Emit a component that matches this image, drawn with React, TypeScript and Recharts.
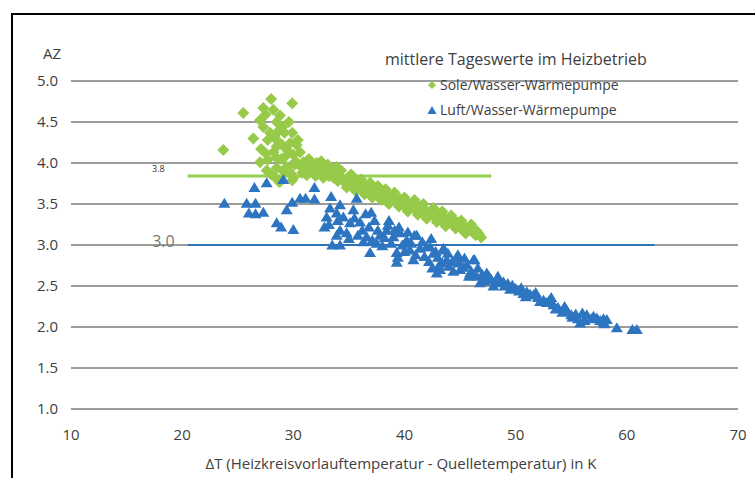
import React from "react";
import { ScatterChart, Scatter, XAxis, YAxis, CartesianGrid, ReferenceLine } from "recharts";

const xTicks = [10, 20, 30, 40, 50, 60, 70];
const yTicks = [1.0, 1.5, 2.0, 2.5, 3.0, 3.5, 4.0, 4.5, 5.0];

const seriesNames = ["Sole/Wasser-Wärmepumpe", "Luft/Wasser-Wärmepumpe"];
const legendTitle = "mittlere Tageswerte im Heizbetrieb";
const xTitle = "ΔT (Heizkreisvorlauftemperatur - Quelletemperatur) in K";
const yTitle = "AZ";

const soleRef = { value: 3.84, from: 20.5, to: 47.8, label: "3.8" };
const luftRef = { value: 3.0, from: 20.5, to: 62.5, label: "3.0" };

const solePoints: [number, number][] = [
  [23.7, 4.16], [25.5, 4.61], [28.0, 4.78], [29.9, 4.73], [26.4, 4.3], [27.1, 4.17],
  [27.3, 4.67], [27.5, 4.59], [28.2, 4.65], [27.0, 4.52], [27.3, 4.44], [28.5, 4.5],
  [27.9, 4.37], [28.6, 4.38], [27.7, 4.28], [28.5, 4.28], [29.2, 4.37], [29.9, 4.37],
  [27.5, 4.12], [28.2, 4.13], [29.0, 4.22], [29.7, 4.24], [30.3, 4.22], [27.0, 4.01],
  [27.7, 4.04], [28.5, 4.06], [29.2, 4.07], [30.0, 4.1], [30.6, 4.13], [27.6, 3.91],
  [28.5, 3.94], [29.4, 3.95], [30.1, 3.98], [30.9, 4.01], [31.5, 3.98], [32.1, 4.0],
  [28.4, 3.82], [28.8, 3.77], [30.0, 3.82], [31.2, 3.85], [32.4, 3.89], [32.8, 3.95],
  [30.4, 4.28], [28.5, 4.2], [28.7, 3.77], [29.9, 3.79], [33.9, 3.95], [31.0, 3.92],
  [31.8, 3.9], [32.0, 3.84], [31.4, 4.05], [30.8, 3.88], [29.0, 4.44], [28.8, 4.58],
  [29.5, 4.15], [30.2, 4.02], [30.7, 3.95], [31.3, 3.9], [29.8, 3.87], [28.0, 3.86],
  [29.1, 3.9], [28.3, 4.33], [29.6, 4.5], [28.9, 4.05], [31.7, 3.95], [32.7, 3.82],
  [32.3, 3.95], [32.6, 3.9], [33.0, 3.92], [33.2, 3.84], [33.4, 3.89], [33.6, 3.82],
  [34.0, 3.78], [34.2, 3.84], [34.5, 3.8], [34.7, 3.75], [34.9, 3.82], [35.1, 3.77],
  [35.3, 3.72], [35.5, 3.78], [35.8, 3.7], [36.0, 3.74], [36.2, 3.68], [36.5, 3.72],
  [36.7, 3.66], [37.0, 3.69], [37.2, 3.62], [37.4, 3.67], [37.7, 3.6], [38.0, 3.64],
  [38.2, 3.57], [38.5, 3.61], [38.8, 3.54], [39.0, 3.58], [39.3, 3.52], [39.6, 3.56],
  [39.9, 3.48], [40.1, 3.53], [40.4, 3.46], [40.7, 3.5], [41.0, 3.43], [41.3, 3.47],
  [41.5, 3.4], [41.8, 3.44], [42.1, 3.37], [42.4, 3.41], [42.7, 3.34], [43.0, 3.38],
  [43.3, 3.3], [43.5, 3.35], [43.8, 3.27], [44.1, 3.31], [44.4, 3.24], [44.7, 3.28],
  [45.0, 3.21], [45.3, 3.25], [45.6, 3.18], [45.9, 3.21], [46.2, 3.15], [46.5, 3.17],
  [46.9, 3.09], [32.5, 4.02], [33.1, 3.98], [33.8, 3.88], [34.3, 3.91], [34.8, 3.7],
  [35.2, 3.86], [35.6, 3.66], [36.1, 3.8], [36.4, 3.62], [36.9, 3.76], [37.1, 3.58],
  [37.6, 3.72], [37.9, 3.55], [38.3, 3.68], [38.6, 3.5], [39.1, 3.64], [39.5, 3.47],
  [40.0, 3.58], [40.3, 3.41], [40.9, 3.55], [41.2, 3.37], [41.7, 3.5], [42.0, 3.32],
  [42.6, 3.45], [42.9, 3.28], [43.4, 3.41], [43.7, 3.23], [44.2, 3.36], [44.6, 3.2],
  [45.1, 3.3], [45.5, 3.14], [46.0, 3.25], [46.4, 3.12], [46.7, 3.13],
];

const luftPoints: [number, number][] = [
  [23.8, 3.51], [25.8, 3.51], [26.0, 3.39], [26.5, 3.7], [26.6, 3.51], [26.6, 3.38],
  [27.3, 3.4], [27.6, 3.76], [28.5, 3.27], [28.9, 3.22], [29.1, 3.8], [29.4, 3.43],
  [29.9, 3.52], [30.0, 3.19], [30.6, 3.57], [31.1, 3.57], [31.9, 3.56], [31.9, 3.7],
  [32.8, 3.22], [33.0, 3.34], [33.3, 3.45], [33.4, 3.59], [33.5, 3.0], [33.9, 3.39],
  [33.9, 3.12], [34.2, 3.49], [34.2, 3.18], [34.2, 3.0], [34.5, 3.34], [34.8, 3.15],
  [35.1, 3.27], [35.4, 3.43], [35.5, 3.33], [35.7, 3.57], [36.2, 3.18], [36.3, 3.04],
  [36.9, 2.91], [37.1, 3.06], [37.3, 3.3], [37.6, 3.18], [38.2, 3.09], [38.4, 3.18],
  [38.5, 3.24], [39.1, 3.18], [39.3, 2.91], [39.3, 2.79], [39.4, 2.85], [39.6, 3.15],
  [40.2, 3.06], [40.5, 2.94], [40.9, 3.12], [41.1, 3.12], [42.0, 2.98], [42.3, 2.98],
  [42.5, 2.72], [42.9, 2.66], [43.2, 2.7], [43.5, 2.96], [43.6, 2.94], [43.8, 2.82],
  [44.7, 2.85], [44.8, 2.88], [45.3, 2.73], [45.9, 2.66], [46.2, 2.82], [46.3, 2.82],
  [46.8, 2.54], [47.4, 2.66], [47.4, 2.6], [48.6, 2.54], [49.7, 2.51], [50.7, 2.41],
  [51.6, 2.39], [52.5, 2.33], [53.4, 2.27], [54.2, 2.18], [55.1, 2.12], [55.8, 2.05],
  [56.0, 2.17], [56.4, 2.15], [57.3, 2.11], [58.2, 2.09], [59.1, 1.99], [60.5, 1.97],
  [60.9, 1.97], [36.5, 3.38], [36.8, 3.22], [37.8, 3.12], [38.0, 2.99], [38.8, 3.02],
  [39.0, 3.1], [39.8, 3.0], [40.0, 2.92], [40.6, 3.02], [41.0, 2.88], [41.4, 2.96],
  [41.8, 2.86], [42.2, 2.8], [42.6, 2.9], [43.0, 2.85], [43.4, 2.78], [44.0, 2.74],
  [44.3, 2.8], [45.0, 2.7], [45.6, 2.76], [46.0, 2.68], [46.5, 2.62], [47.0, 2.64],
  [47.8, 2.58], [48.2, 2.56], [49.0, 2.5], [49.3, 2.53], [50.0, 2.47], [50.3, 2.44],
  [51.0, 2.43], [51.3, 2.4], [52.0, 2.36], [52.8, 2.3], [53.0, 2.32], [53.8, 2.24],
  [54.6, 2.2], [55.4, 2.16], [56.8, 2.1], [57.6, 2.08], [57.9, 2.06],
  [33.2, 3.25], [34.0, 3.3], [35.0, 3.08], [35.8, 3.12], [36.0, 3.28], [36.6, 3.1],
  [37.0, 3.4], [37.5, 3.02], [38.6, 3.3], [39.5, 3.22], [40.3, 3.16], [40.8, 2.82],
  [41.6, 3.04], [42.4, 3.08], [42.8, 2.92], [43.1, 2.75], [43.9, 2.9], [44.4, 2.68],
  [44.9, 2.78], [45.4, 2.84], [45.8, 2.62], [46.6, 2.72], [47.2, 2.56], [47.6, 2.62],
  [48.0, 2.5], [48.4, 2.62], [48.9, 2.55], [49.5, 2.46], [50.5, 2.48], [50.9, 2.37],
  [51.8, 2.42], [52.2, 2.31], [53.2, 2.36], [53.6, 2.22], [54.4, 2.25], [55.0, 2.15],
  [55.6, 2.1], [56.2, 2.08], [57.0, 2.13], [57.9, 2.1], [58.0, 2.04],
];

const GREEN = "#98CA4A";
const BLUE = "#2E75C1";
const LINE_GREEN = "#92D050";
const LINE_BLUE = "#2E75B6";
const TEXT = "#404040";
const FONT = '"Open Sans", sans-serif';

const soleData = solePoints.map(([x, y]) => ({ x, y }));
const luftData = luftPoints.map(([x, y]) => ({ x, y }));

const Diamond = (props: any) => {
  const { cx, cy } = props;
  if (cx == null || cy == null) return null;
  const r = 6;
  return <polygon points={`${cx},${cy - r} ${cx + r},${cy} ${cx},${cy + r} ${cx - r},${cy}`} fill={GREEN} />;
};

const Triangle = (props: any) => {
  const { cx, cy } = props;
  if (cx == null || cy == null) return null;
  return <polygon points={`${cx},${cy - 5.5} ${cx + 6},${cy + 4.5} ${cx - 6},${cy + 4.5}`} fill={BLUE} />;
};

const refLabel = (text: string, dx: number, dy: number, size: number, color: string) => (props: any) => {
  const vb = props.viewBox || {};
  return (
    <text x={vb.x - dx} y={vb.y + dy} textAnchor="end" dominantBaseline="central" fontSize={size} fill={color} fontFamily={FONT}>
      {text}
    </text>
  );
};

export default function App() {
  return (
    <div style={{ position: "absolute", left: 0, top: 0, width: 755, height: 478, overflow: "hidden", background: "#fff" }}>
      <div style={{ position: "absolute", left: 11, top: 13, width: 800, height: 520, borderTop: "2px solid #000", borderLeft: "2px solid #000" }} />
      <div style={{ position: "absolute", left: 0, top: 0 }}>
        <ScatterChart width={755} height={478} margin={{ top: 81, right: 17, bottom: 39, left: 31 }}>
          <CartesianGrid horizontal vertical={false} stroke="#3a3a3a" strokeWidth={1} />
          <XAxis
            type="number"
            dataKey="x"
            domain={[10, 70]}
            ticks={xTicks}
            axisLine={false}
            tickLine={false}
            height={30}
            tickMargin={14}
            tick={{ fontSize: 15, fill: TEXT, fontFamily: FONT }}
          />
          <YAxis
            type="number"
            dataKey="y"
            domain={[1, 5]}
            ticks={yTicks}
            axisLine={false}
            tickLine={false}
            width={40}
            tickMargin={7}
            tickFormatter={(v: number) => v.toFixed(1)}
            tick={{ fontSize: 15, fill: TEXT, fontFamily: FONT }}
          />
          <ReferenceLine
            segment={[{ x: soleRef.from, y: soleRef.value }, { x: soleRef.to, y: soleRef.value }]}
            stroke={LINE_GREEN}
            strokeWidth={3}
            label={refLabel(soleRef.label, 23, -8, 9, "#333")}
          />
          <ReferenceLine
            segment={[{ x: luftRef.from, y: luftRef.value }, { x: luftRef.to, y: luftRef.value }]}
            stroke={LINE_BLUE}
            strokeWidth={2}
            label={refLabel(luftRef.label, 13, -4, 16, "#777")}
          />
          <Scatter name={seriesNames[0]} data={soleData} shape={Diamond} isAnimationActive={false} />
          <Scatter name={seriesNames[1]} data={luftData} shape={Triangle} isAnimationActive={false} />
        </ScatterChart>
      </div>
      <svg width={755} height={478} style={{ position: "absolute", left: 0, top: 0, pointerEvents: "none" }} fontFamily={FONT}>
        <text x={43} y={59} fontSize={15} fill={TEXT}>{yTitle}</text>
        <text x={385} y={65} fontSize={16} fill={TEXT}>{legendTitle}</text>
        <polygon points="432,81 436,85 432,89 428,85" fill={GREEN} />
        <text x={440} y={90} fontSize={14} fill={TEXT}>{seriesNames[0]}</text>
        <polygon points="432,106 436.5,114 427.5,114" fill={BLUE} />
        <text x={440} y={115} fontSize={14} fill={TEXT}>{seriesNames[1]}</text>
        <text x={401} y={469} fontSize={15} fill={TEXT} textAnchor="middle">{xTitle}</text>
      </svg>
    </div>
  );
}
